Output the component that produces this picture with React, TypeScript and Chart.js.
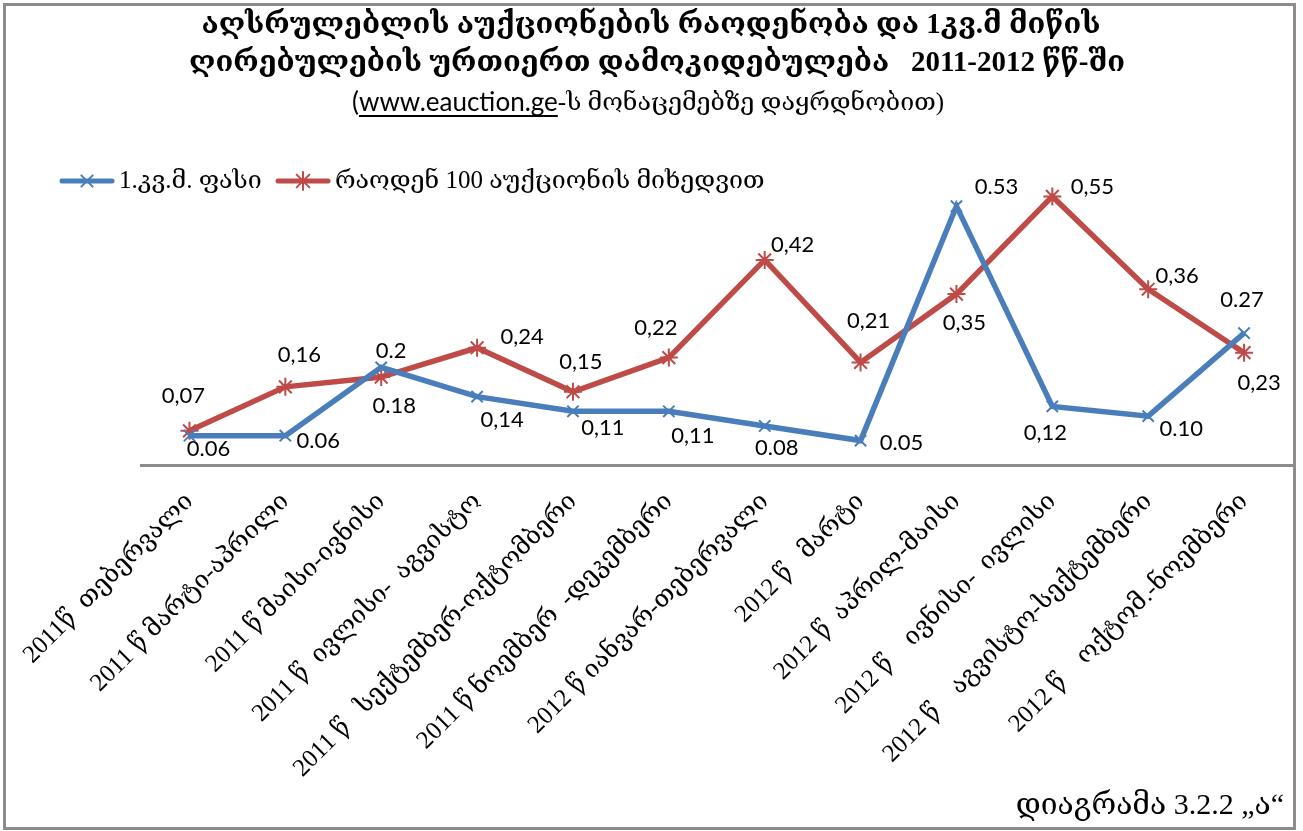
import React, { useEffect, useRef } from 'react';
import { Chart, registerables } from 'chart.js';

Chart.register(...registerables);

// ---------- data ----------
const categories: string[] = [
  '2011წ  თებერვალი',
  '2011 წ მარტი-აპრილი',
  '2011 წ მაისი-ივნისი',
  '2011 წ  ივლისი-  აგვისტო',
  '2011 წ   სექტემბერ-ოქტომბერი',
  '2011 წ ნოემბერ  -დეკემბერი',
  '2012 წ იანვარ-თებერვალი',
  '2012 წ   მარტი',
  '2012 წ  აპრილ-მაისი',
  '2012 წ    ივნისი-  ივლისი',
  '2012 წ    აგვისტო-სექტემბერი',
  '2012 წ    ოქტომ.-ნოემბერი',
];

const pricePerSqm: number[] = [0.06, 0.06, 0.2, 0.14, 0.11, 0.11, 0.08, 0.05, 0.53, 0.12, 0.1, 0.27];
const countPer100: number[] = [0.07, 0.16, 0.18, 0.24, 0.15, 0.22, 0.42, 0.21, 0.35, 0.55, 0.36, 0.23];

const priceLabels: string[] = ['0.06', '0.06', '0.2', '0,14', '0,11', '0,11', '0.08', '0.05', '0.53', '0,12', '0.10', '0.27'];
const countLabels: string[] = ['0,07', '0,16', '0.18', '0,24', '0,15', '0,22', '0,42', '0,21', '0,35', '0,55', '0,36', '0,23'];

const seriesNames: string[] = ['1.კვ.მ. ფასი', 'რაოდენ 100 აუქციონის მიხედვით'];

const titleLines: string[] = [
  'აღსრულებლის აუქციონების რაოდენობა და 1კვ.მ მიწის',
  'ღირებულების ურთიერთ დამოკიდებულება   2011-2012 წწ-ში',
];
const subtitleParts: string[] = ['(', 'www.eauction.ge', '-ს ', 'მონაცემებზე დაყრდნობით)'];
const footnote = 'დიაგრამა 3.2.2 „ა“';

// ---------- label placement (relative offsets from each point, px) ----------
const priceLabelOffsets: [number, number][] = [
  [19, 13], [33, 5], [10, -16], [25, 23], [30, 17], [24, 25],
  [12, 22], [41, 2], [40, -19], [-7, 27], [33, 13], [-2, -33],
];
const countLabelOffsets: [number, number][] = [
  [-6, -35], [14, -32], [13, 29], [45, -11], [8, -30], [-13, -30],
  [28, -15], [8, -42], [8, 29], [40, -10], [29, -13], [15, 30],
];

// ---------- styles ----------
const BLUE = '#4A7EBB';
const RED = '#BE4B48';
const GRAY = '#8C8C8C';
const SERIF = "'Liberation Serif', 'DejaVu Serif', serif";
const SANS = "Lato, 'Open Sans', sans-serif";

function drawCross(ctx: CanvasRenderingContext2D, x: number, y: number, r: number, color: string) {
  ctx.save();
  ctx.strokeStyle = color;
  ctx.lineWidth = 2;
  ctx.beginPath();
  const d = r * Math.SQRT1_2;
  ctx.moveTo(x - d, y - d); ctx.lineTo(x + d, y + d);
  ctx.moveTo(x + d, y - d); ctx.lineTo(x - d, y + d);
  ctx.stroke();
  ctx.restore();
}

function drawStar(ctx: CanvasRenderingContext2D, x: number, y: number, r: number, color: string) {
  ctx.save();
  ctx.strokeStyle = color;
  ctx.lineWidth = 2;
  ctx.beginPath();
  const d = r * Math.SQRT1_2;
  ctx.moveTo(x - d, y - d); ctx.lineTo(x + d, y + d);
  ctx.moveTo(x + d, y - d); ctx.lineTo(x - d, y + d);
  ctx.moveTo(x, y - r); ctx.lineTo(x, y + r);
  ctx.stroke();
  ctx.restore();
}

const decorPlugin = {
  id: 'decor',
  afterDraw(chart: any) {
    const ctx: CanvasRenderingContext2D = chart.ctx;
    ctx.save();
    // frame
    ctx.strokeStyle = GRAY;
    ctx.lineWidth = 3;
    ctx.strokeRect(4.5, 4.5, 1290, 824);

    // title
    ctx.fillStyle = '#000';
    ctx.textAlign = 'center';
    ctx.textBaseline = 'middle';
    ctx.font = `bold 29px ${SERIF}`;
    ctx.fillText(titleLines[0], 651, 26);
    ctx.fillText(titleLines[1], 657, 64);

    // subtitle
    const fonts = [`26px ${SANS}`, `26px ${SANS}`, `25px ${SERIF}`, `25px ${SERIF}`];
    let total = 0;
    const widths = subtitleParts.map((p, i) => {
      ctx.font = fonts[i];
      const w = ctx.measureText(p).width;
      total += w;
      return w;
    });
    let x = 648 - total / 2;
    ctx.textAlign = 'left';
    subtitleParts.forEach((p, i) => {
      ctx.font = fonts[i];
      ctx.fillText(p, x, 103);
      if (i === 1) {
        ctx.fillRect(x, 115, widths[i], 2);
      }
      x += widths[i];
    });

    // legend
    const ly = 181;
    ctx.lineWidth = 5;
    ctx.lineCap = 'round';
    ctx.strokeStyle = BLUE;
    ctx.beginPath(); ctx.moveTo(62, ly); ctx.lineTo(112, ly); ctx.stroke();
    drawCross(ctx, 87, ly, 8, BLUE);
    ctx.strokeStyle = RED;
    ctx.beginPath(); ctx.moveTo(278, ly); ctx.lineTo(328, ly); ctx.stroke();
    drawStar(ctx, 303, ly, 9, RED);
    ctx.fillStyle = '#000';
    ctx.font = `25px ${SERIF}`;
    ctx.textAlign = 'left';
    ctx.fillText(seriesNames[0], 119, ly);
    ctx.fillText(seriesNames[1], 335, ly);

    // footnote
    ctx.textAlign = 'right';
    ctx.font = `30px ${SERIF}`;
    ctx.fillText(footnote, 1284, 806);
    ctx.restore();
  },
  afterDatasetsDraw(chart: any) {
    const ctx: CanvasRenderingContext2D = chart.ctx;
    ctx.save();
    ctx.fillStyle = '#000';
    ctx.font = `22px ${SANS}`;
    ctx.textAlign = 'center';
    ctx.textBaseline = 'middle';
    const sets = [
      { labels: priceLabels, offs: priceLabelOffsets },
      { labels: countLabels, offs: countLabelOffsets },
    ];
    sets.forEach((s, di) => {
      const meta = chart.getDatasetMeta(di);
      meta.data.forEach((pt: any, i: number) => {
        const [dx, dy] = s.offs[i];
        ctx.fillText(s.labels[i], pt.x + dx, pt.y + dy);
      });
    });
    ctx.restore();
  },
};

export default function App() {
  const ref = useRef<HTMLCanvasElement>(null);
  useEffect(() => {
    if (!ref.current) return;
    const chart = new Chart(ref.current, {
      type: 'line',
      data: {
        labels: categories,
        datasets: [
          {
            label: seriesNames[0],
            data: pricePerSqm,
            borderColor: BLUE,
            backgroundColor: BLUE,
            borderWidth: 5.5,
            pointStyle: 'crossRot',
            pointRadius: 8,
            pointBorderWidth: 2,
            pointBorderColor: BLUE,
            tension: 0,
          },
          {
            label: seriesNames[1],
            data: countPer100,
            borderColor: RED,
            backgroundColor: RED,
            borderWidth: 5.5,
            pointStyle: 'star',
            pointRadius: 9,
            pointBorderWidth: 2,
            pointBorderColor: RED,
            tension: 0,
          },
        ],
      },
      options: {
        responsive: false,
        animation: false,
        events: [],
        layout: { padding: { left: 139, right: 8, top: 172, bottom: 26 } },
        plugins: {
          legend: { display: false },
          title: { display: false },
          tooltip: { enabled: false },
        },
        scales: {
          x: {
            offset: true,
            grid: { display: false, drawTicks: false },
            border: { color: GRAY, width: 3 },
            ticks: {
              autoSkip: false,
              maxRotation: 45,
              minRotation: 45,
              padding: 22,
              color: '#000',
              font: { family: SERIF, size: 25 },
            },
            afterFit: (scale: any) => { scale.height = 340; },
          },
          y: { display: false, min: 0, max: 0.6 },
        },
      },
      plugins: [decorPlugin],
    });
    return () => chart.destroy();
  }, []);
  return (
    <div style={{ position: 'fixed', left: 0, top: 0, width: 1303, height: 831, background: '#fff' }}>
      <canvas ref={ref} width={1303} height={831} style={{ display: 'block' }} />
    </div>
  );
}
